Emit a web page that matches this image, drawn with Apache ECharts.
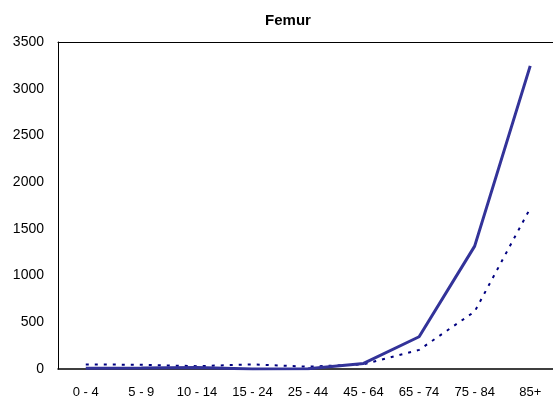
<!DOCTYPE html>
<html>
<head>
<meta charset="utf-8">
<script src="https://cdn.jsdelivr.net/npm/echarts@6/dist/echarts.min.js"></script>
<style>
  html, body { margin: 0; padding: 0; background: #fff; }
  #chart { width: 553px; height: 403px; }
</style>
</head>
<body>
<div id="chart"></div>
<script>
// age groups on the x axis
var ageGroups = ["0 - 4", "5 - 9", "10 - 14", "15 - 24", "25 - 44", "45 - 64", "65 - 74", "75 - 84", "85+"];
// solid line
var solidValues = [8, 10, 15, 0, 3, 60, 345, 1315, 3245];
// dotted line
var dottedValues = [48, 46, 30, 50, 25, 50, 205, 615, 1720];
var yTicks = { min: 0, max: 3500, interval: 500 };

var myChart = echarts.init(document.getElementById("chart"));
myChart.setOption({
  animation: false,
  title: {
    text: "Femur",
    left: 283,
    top: 8,
    textAlign: "center",
    textStyle: { fontFamily: "Liberation Sans", fontSize: 15, fontWeight: "bold", color: "#000" },
  },
  grid: {
    left: 58,
    right: -5,
    top: 42,
    bottom: 34,
    outerBoundsMode: "none",
    containLabel: false,
  },
  xAxis: [
    {
      type: "category",
      data: ageGroups,
      boundaryGap: true,
      axisLine: { lineStyle: { color: "#000", width: 1.5 } },
      axisTick: { show: false },
      axisLabel: {
        color: "#000",
        fontFamily: "Liberation Sans",
        fontSize: 13,
        margin: 17,
        interval: 0,
      },
      splitLine: { show: false },
    },
    {
      // top edge of the plot box
      type: "category",
      data: ageGroups,
      position: "top",
      axisLine: { show: true, lineStyle: { color: "#000", width: 1 } },
      axisTick: { show: false },
      axisLabel: { show: false },
      splitLine: { show: false },
    },
  ],
  yAxis: {
    type: "value",
    min: yTicks.min,
    max: yTicks.max,
    interval: yTicks.interval,
    axisLine: { show: true, lineStyle: { color: "#000" } },
    axisTick: { show: false },
    axisLabel: {
      color: "#000",
      fontFamily: "Liberation Sans",
      fontSize: 14,
      margin: 14,
      formatter: function (v) { return String(v); },
    },
    splitLine: { show: false },
  },
  series: [
    {
      type: "line",
      data: solidValues,
      symbol: "none",
      lineStyle: { color: "#333399", width: 3, type: "solid" },
      z: 3,
    },
    {
      type: "line",
      data: dottedValues,
      symbol: "none",
      lineStyle: { color: "#000080", width: 2, type: [3, 6] },
      z: 2,
    },
  ],
});
</script>
</body>
</html>
